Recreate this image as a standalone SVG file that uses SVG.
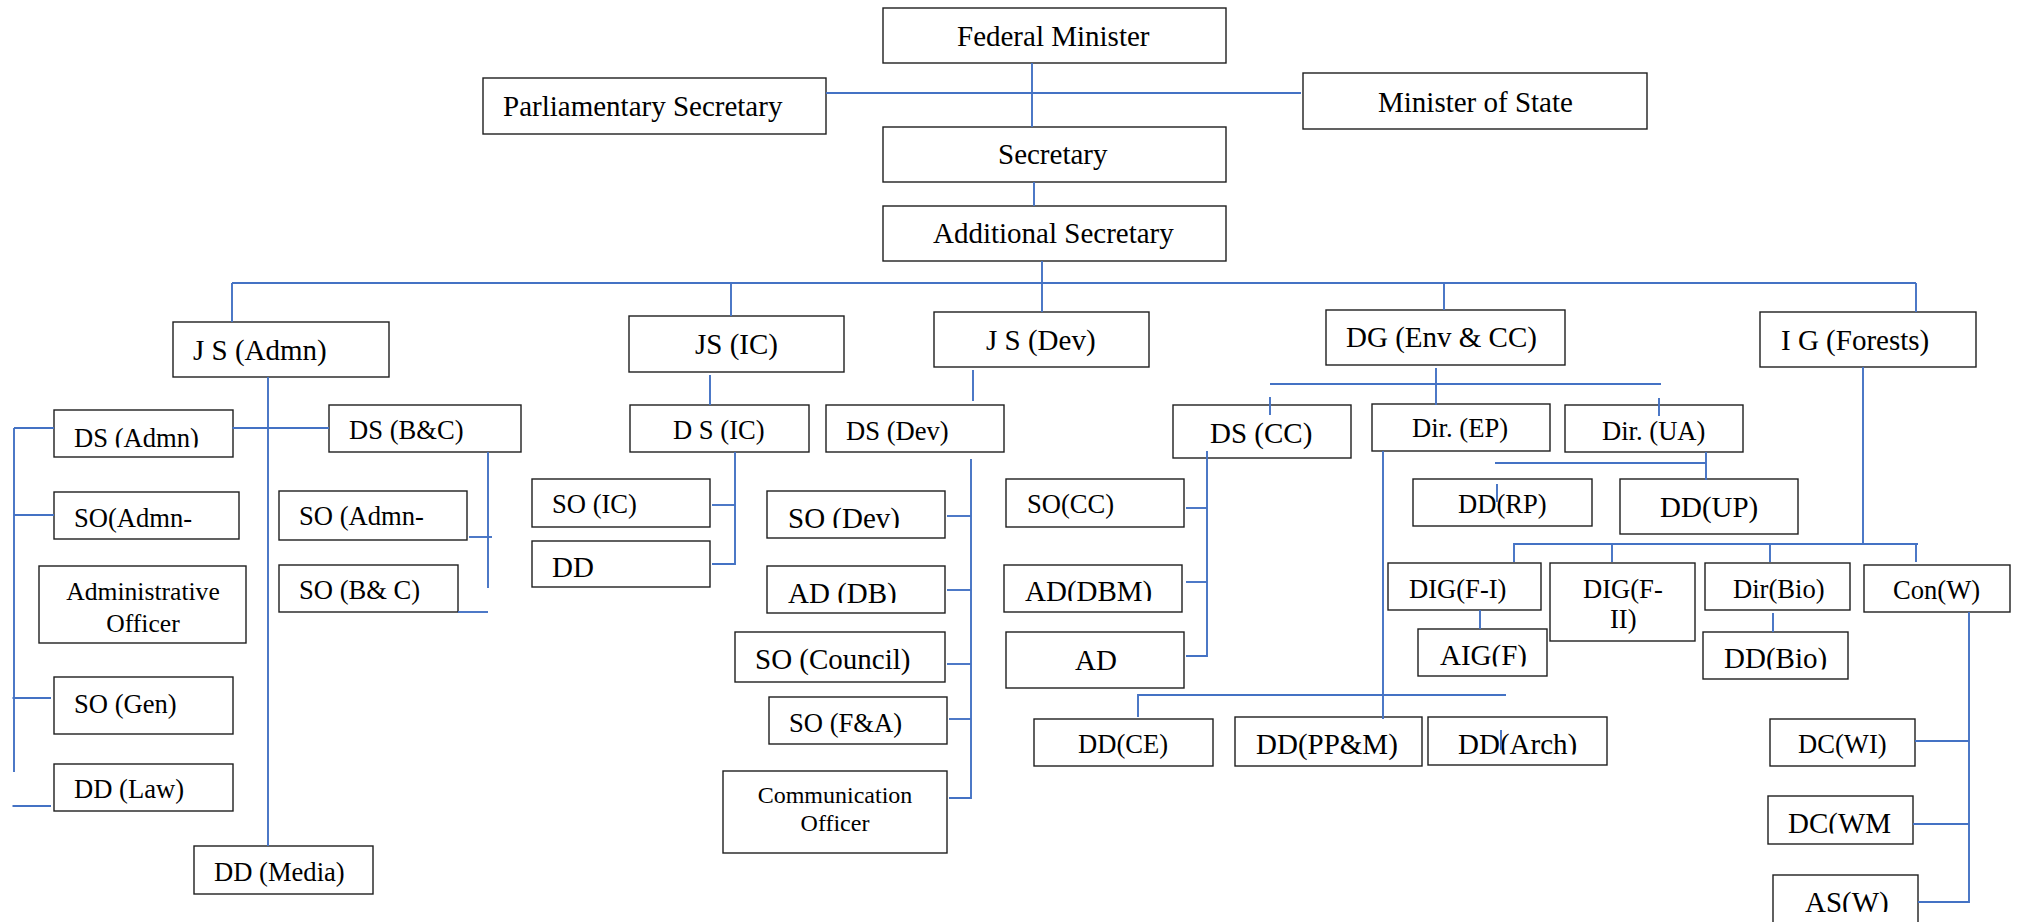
<svg xmlns="http://www.w3.org/2000/svg" width="2017" height="922" viewBox="0 0 2017 922">
<style>
rect.box{fill:#fff;stroke:#1e1e1e;stroke-width:1.4}
.c line,.c path{stroke:#4472c4;stroke-width:1.9;fill:none}
text{font-family:"Liberation Serif","Times New Roman",serif;fill:#000}
.a{font-size:29px}
.b{font-size:26.6px}
.m{text-anchor:middle}
</style>
<defs>
<clipPath id="k1" clipPathUnits="userSpaceOnUse"><rect x="54" y="410" width="179" height="37.5"/></clipPath>
<clipPath id="k2" clipPathUnits="userSpaceOnUse"><rect x="767" y="491" width="178" height="37"/></clipPath>
<clipPath id="k3" clipPathUnits="userSpaceOnUse"><rect x="767" y="566" width="178" height="37"/></clipPath>
<clipPath id="k4" clipPathUnits="userSpaceOnUse"><rect x="1004" y="565" width="178" height="36"/></clipPath>
<clipPath id="k5" clipPathUnits="userSpaceOnUse"><rect x="1768" y="796" width="145" height="37.5"/></clipPath>
<clipPath id="k6" clipPathUnits="userSpaceOnUse"><rect x="1773" y="875" width="145" height="37"/></clipPath>
<clipPath id="k7" clipPathUnits="userSpaceOnUse"><rect x="1428" y="717" width="179" height="37.5"/></clipPath>
<clipPath id="k8" clipPathUnits="userSpaceOnUse"><rect x="1703" y="632" width="145" height="37.5"/></clipPath>
<clipPath id="k9" clipPathUnits="userSpaceOnUse"><rect x="1418" y="629" width="129" height="37.5"/></clipPath>
</defs>
<rect width="2017" height="922" fill="#fff"/>
<g id="n-fm"><rect class="box" x="883" y="8" width="343" height="55"/><text class="a" x="957" y="46">Federal Minister</text></g>
<g id="n-ps"><rect class="box" x="483" y="78" width="343" height="56"/><text class="a" x="503" y="116">Parliamentary Secretary</text></g>
<g id="n-mos"><rect class="box" x="1303" y="73" width="344" height="56"/><text class="a" x="1378" y="112">Minister of State</text></g>
<g id="n-sec"><rect class="box" x="883" y="127" width="343" height="55"/><text class="a" x="998" y="164">Secretary</text></g>
<g id="n-as"><rect class="box" x="883" y="206" width="343" height="55"/><text class="a" x="933" y="243">Additional Secretary</text></g>
<g id="n-jsadmn"><rect class="box" x="173" y="322" width="216" height="55"/><text class="a" x="193" y="360">J S (Admn)</text></g>
<g id="n-jsic"><rect class="box" x="629" y="316" width="215" height="56"/><text class="a" x="695" y="354">JS (IC)</text></g>
<g id="n-jsdev"><rect class="box" x="934" y="312" width="215" height="55"/><text class="a" x="986" y="350">J S (Dev)</text></g>
<g id="n-dg"><rect class="box" x="1326" y="310" width="239" height="55"/><text class="a" x="1346" y="347">DG (Env &amp; CC)</text></g>
<g id="n-ig"><rect class="box" x="1760" y="312" width="216" height="55"/><text class="a" x="1781" y="350">I G (Forests)</text></g>
<g id="n-dsadmn"><rect class="box" x="54" y="410" width="179" height="47"/><text class="b" x="74" y="447" clip-path="url(#k1)">DS (Admn)</text></g>
<g id="n-dsbc"><rect class="box" x="329" y="405" width="192" height="47"/><text class="b" x="349" y="439">DS (B&amp;C)</text></g>
<g id="n-soadmn1"><rect class="box" x="54" y="492" width="185" height="47"/><text class="b" x="74" y="527">SO(Admn-</text></g>
<g id="n-ao"><rect class="box" x="39" y="566" width="207" height="77"/><text class="m" style="font-size:25.6px" x="143" y="600">Administrative</text><text class="m" style="font-size:25.6px" x="143" y="632">Officer</text></g>
<g id="n-sogen"><rect class="box" x="54" y="677" width="179" height="57"/><text class="b" x="74" y="713">SO (Gen)</text></g>
<g id="n-ddlaw"><rect class="box" x="54" y="764" width="179" height="47"/><text class="b" x="74" y="798">DD (Law)</text></g>
<g id="n-ddmedia"><rect class="box" x="194" y="846" width="179" height="48"/><text class="b" x="214" y="881">DD (Media)</text></g>
<g id="n-soadmn2"><rect class="box" x="279" y="491" width="188" height="49"/><text class="b" x="299" y="525">SO (Admn-</text></g>
<g id="n-sobc"><rect class="box" x="279" y="565" width="179" height="47"/><text class="b" x="299" y="599">SO (B&amp; C)</text></g>
<g id="n-dsic"><rect class="box" x="630" y="405" width="179" height="47"/><text class="b" x="673" y="439">D S (IC)</text></g>
<g id="n-soic"><rect class="box" x="532" y="479" width="178" height="48"/><text class="b" x="552" y="513">SO (IC)</text></g>
<g id="n-dd"><rect class="box" x="532" y="541" width="178" height="46"/><text class="a" x="552" y="577">DD</text></g>
<g id="n-dsdev"><rect class="box" x="826" y="405" width="178" height="47"/><text class="b" x="846" y="440">DS (Dev)</text></g>
<g id="n-sodev"><rect class="box" x="767" y="491" width="178" height="47"/><text class="a" x="788" y="527.5" clip-path="url(#k2)">SO (Dev)</text></g>
<g id="n-addb"><rect class="box" x="767" y="566" width="178" height="47"/><text class="a" x="788" y="602.5" clip-path="url(#k3)">AD (DB)</text></g>
<g id="n-socouncil"><rect class="box" x="735" y="632" width="210" height="50"/><text class="a" x="755" y="669">SO (Council)</text></g>
<g id="n-sofa"><rect class="box" x="769" y="697" width="178" height="47"/><text class="b" x="789" y="732">SO (F&amp;A)</text></g>
<g id="n-co"><rect class="box" x="723" y="771" width="224" height="82"/><text class="m" style="font-size:24px" x="835" y="803">Communication</text><text class="m" style="font-size:24px" x="835" y="831">Officer</text></g>
<g id="n-dscc"><rect class="box" x="1173" y="405" width="178" height="53"/><text class="a" x="1210" y="443">DS (CC)</text></g>
<g id="n-direp"><rect class="box" x="1372" y="404" width="178" height="47"/><text class="b" x="1412" y="437">Dir. (EP)</text></g>
<g id="n-dirua"><rect class="box" x="1565" y="405" width="178" height="47"/><text class="b" x="1602" y="440">Dir. (UA)</text></g>
<g id="n-socc"><rect class="box" x="1006" y="479" width="178" height="48"/><text class="b" x="1027" y="513">SO(CC)</text></g>
<g id="n-addbm"><rect class="box" x="1004" y="565" width="178" height="47"/><text class="a" x="1025" y="600.5" clip-path="url(#k4)">AD(DBM)</text></g>
<g id="n-ad"><rect class="box" x="1006" y="632" width="178" height="56"/><text class="a" x="1075" y="670">AD</text></g>
<g id="n-ddrp"><rect class="box" x="1413" y="479" width="179" height="47"/><text class="b" x="1458" y="513">DD(RP)</text></g>
<g id="n-ddup"><rect class="box" x="1620" y="479" width="178" height="55"/><text class="a" x="1660" y="517">DD(UP)</text></g>
<g id="n-digf1"><rect class="box" x="1388" y="563" width="153" height="47"/><text class="b" x="1409" y="598">DIG(F-I)</text></g>
<g id="n-digf2"><rect class="box" x="1550" y="563" width="145" height="78"/><text class="b" x="1583" y="598">DIG(F-</text><text class="b" x="1610" y="628">II)</text></g>
<g id="n-dirbio"><rect class="box" x="1705" y="563" width="145" height="47"/><text class="b" x="1733" y="598">Dir(Bio)</text></g>
<g id="n-conw"><rect class="box" x="1864" y="565" width="146" height="47"/><text class="b" x="1893" y="599">Con(W)</text></g>
<g id="n-aigf"><rect class="box" x="1418" y="629" width="129" height="47"/><text class="a" x="1440" y="665" clip-path="url(#k9)">AIG(F)</text></g>
<g id="n-ddbio"><rect class="box" x="1703" y="632" width="145" height="47"/><text class="a" x="1724" y="668" clip-path="url(#k8)">DD(Bio)</text></g>
<g id="n-ddce"><rect class="box" x="1034" y="719" width="179" height="47"/><text class="b" x="1078" y="753">DD(CE)</text></g>
<g id="n-ddppm"><rect class="box" x="1235" y="717" width="187" height="49"/><text class="a" x="1256" y="754">DD(PP&amp;M)</text></g>
<g id="n-ddarch"><rect class="box" x="1428" y="717" width="179" height="48"/><text class="a" x="1458" y="754" clip-path="url(#k7)">DD(Arch)</text></g>
<g id="n-dcwi"><rect class="box" x="1770" y="719" width="145" height="47"/><text class="b" x="1798" y="753">DC(WI)</text></g>
<g id="n-dcwm"><rect class="box" x="1768" y="796" width="145" height="48"/><text class="a" x="1788" y="833" clip-path="url(#k5)">DC(WM</text></g>
<g id="n-asw"><rect class="box" x="1773" y="875" width="145" height="50"/><text class="a" x="1805" y="911.5" clip-path="url(#k6)">AS(W)</text></g>
<g class="c" id="connectors">
<line x1="1032" y1="63" x2="1032" y2="127"/>
<line x1="826" y1="93" x2="1301" y2="93"/>
<line x1="1034" y1="182" x2="1034" y2="206"/>
<line x1="1042" y1="261" x2="1042" y2="283"/>
<line x1="232" y1="283" x2="1916" y2="283"/>
<line x1="232" y1="283" x2="232" y2="322"/>
<line x1="731" y1="283" x2="731" y2="316"/>
<line x1="1042" y1="283" x2="1042" y2="312"/>
<line x1="1444" y1="283" x2="1444" y2="310"/>
<line x1="1916" y1="283" x2="1916" y2="312"/>
<line x1="268" y1="377" x2="268" y2="846"/>
<line x1="232.5" y1="428" x2="329" y2="428"/>
<line x1="14" y1="428" x2="54" y2="428"/>
<line x1="14" y1="428" x2="14" y2="772"/>
<line x1="14" y1="515" x2="54" y2="515"/>
<line x1="12.5" y1="698" x2="51" y2="698"/>
<line x1="12.5" y1="806" x2="51" y2="806"/>
<line x1="488" y1="452" x2="488" y2="588"/>
<line x1="469" y1="537" x2="492" y2="537"/>
<line x1="458" y1="612" x2="488" y2="612"/>
<line x1="710" y1="375" x2="710" y2="405"/>
<path d="M735 452 V564 H712"/>
<line x1="712" y1="505" x2="735" y2="505"/>
<line x1="973" y1="370" x2="973" y2="401"/>
<path d="M971 459 V798 H949"/>
<line x1="947" y1="516" x2="971" y2="516"/>
<line x1="947" y1="590" x2="971" y2="590"/>
<line x1="947" y1="664" x2="971" y2="664"/>
<line x1="949" y1="719" x2="971" y2="719"/>
<line x1="1436" y1="368" x2="1436" y2="405"/>
<line x1="1270" y1="384" x2="1661" y2="384"/>
<line x1="1270" y1="397" x2="1270" y2="415"/>
<line x1="1659" y1="398" x2="1659" y2="416"/>
<path d="M1207 451 V656 H1186"/>
<line x1="1186" y1="508" x2="1207" y2="508"/>
<line x1="1186" y1="582" x2="1207" y2="582"/>
<line x1="1383" y1="451" x2="1383" y2="719"/>
<path d="M1138 717 V695 H1506"/>
<line x1="1495" y1="463" x2="1706" y2="463"/>
<line x1="1706" y1="452" x2="1706" y2="480"/>
<line x1="1497" y1="484" x2="1497" y2="502"/>
<line x1="1863" y1="367" x2="1863" y2="544"/>
<path d="M1514 562 V544 H1918"/>
<line x1="1612" y1="544" x2="1612" y2="562"/>
<line x1="1770" y1="544" x2="1770" y2="562"/>
<line x1="1916" y1="544" x2="1916" y2="562"/>
<line x1="1480" y1="610" x2="1480" y2="629"/>
<line x1="1773" y1="613" x2="1773" y2="632"/>
<path d="M1969 612 V902 H1918"/>
<line x1="1915" y1="741" x2="1969" y2="741"/>
<line x1="1913" y1="824" x2="1969" y2="824"/>
<line x1="1501" y1="730" x2="1501" y2="750"/>
</g>
</svg>
